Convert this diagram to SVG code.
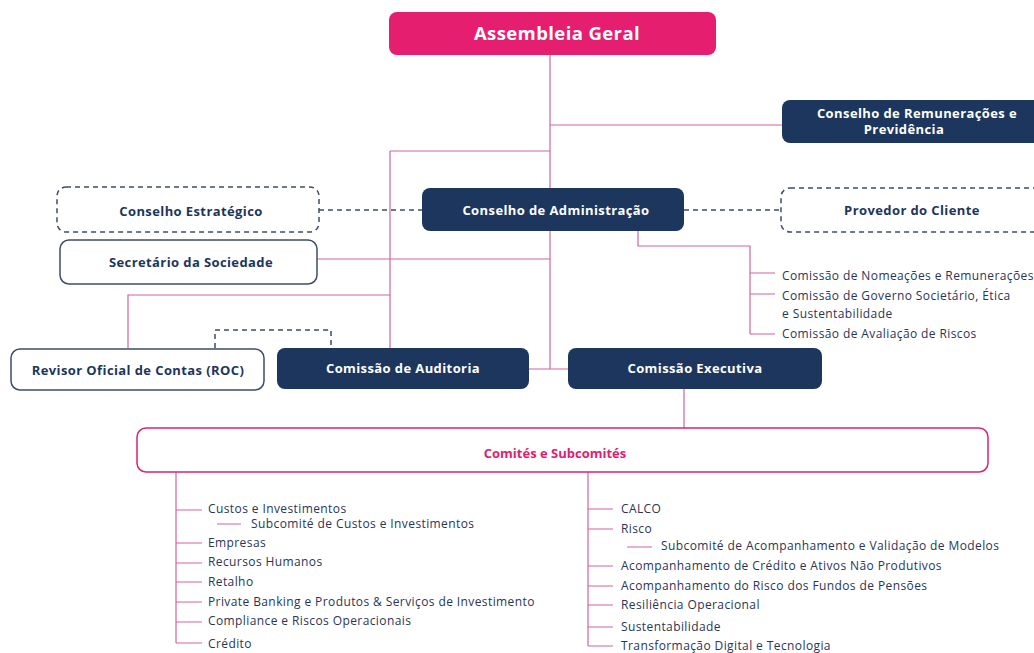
<svg xmlns="http://www.w3.org/2000/svg" width="1034" height="653" viewBox="0 0 1034 653">
<style>
.bg{fill:#ffffff}
.navy{fill:#1C365D}
.pinkbox{fill:#E61E70}
.outline{fill:#ffffff;stroke:#3E4C68;stroke-width:1.5}
.dashbox{fill:#ffffff;stroke:#3E4C68;stroke-width:1.5;stroke-dasharray:5 4}
.pinkoutline{fill:#ffffff;stroke:#D9246E;stroke-width:1.5}
.ln{fill:none;stroke:#D064A0;stroke-width:1.2}
.dash{fill:none;stroke:#3E4C68;stroke-width:1.5;stroke-dasharray:5 4}
.tw{font-family:"Open Sans","DejaVu Sans",sans-serif;font-weight:700;font-size:13px;letter-spacing:0.4px;fill:#ffffff;text-anchor:middle}
.tn{font-family:"Open Sans","DejaVu Sans",sans-serif;font-weight:700;font-size:13px;letter-spacing:0.4px;fill:#1C365D;text-anchor:middle}
.tt{font-family:"Open Sans","DejaVu Sans",sans-serif;font-weight:700;font-size:18.5px;letter-spacing:0.4px;fill:#ffffff;text-anchor:middle}
.tp{font-family:"Open Sans","DejaVu Sans",sans-serif;font-weight:700;font-size:13px;fill:#E0206F;text-anchor:middle}
.li{font-family:"Open Sans","DejaVu Sans",sans-serif;font-size:12px;letter-spacing:0.4px;fill:#2A3556}
</style>
<rect class="bg" x="0" y="0" width="1034" height="653"/>
<g id="connectors">
  <path class="ln" d="M550,55 V369"/>
  <path class="ln" d="M550,125 H782"/>
  <path class="ln" d="M390,151 H550 M390,151 V348"/>
  <path class="ln" d="M317,259 H550"/>
  <path class="ln" d="M128,348 V295 H390"/>
  <path class="ln" d="M529,369 H568"/>
  <path class="ln" d="M638,231 V246 H750 V334"/>
  <path class="ln" d="M750,273 H775 M750,294 H775 M750,334 H775"/>
  <path class="ln" d="M684,389 V428"/>
  <path class="ln" d="M176,472 V643 M176,510 H202 M217,524 H241 M176,543 H202 M176,563 H202 M176,582 H202 M176,602 H202 M176,622 H202 M176,643 H202"/>
  <path class="ln" d="M588,472 V646 M588,509 H613 M588,529 H613 M627,547 H652 M588,566 H613 M588,586 H613 M588,605 H613 M588,627 H613 M588,646 H613"/>
  <path class="dash" d="M319,210 H422"/>
  <path class="dash" d="M684,210 H781"/>
  <path class="dash" d="M215,348 V330 H331 V348"/>
</g>
<g id="assembleia">
  <rect class="pinkbox" x="389" y="12" width="327" height="43" rx="8"/>
  <text class="tt" x="557" y="40">Assembleia Geral</text>
</g>
<g id="remuneracoes">
  <rect class="navy" x="782" y="100" width="262" height="43" rx="8"/>
  <text class="tw" x="917" y="118">Conselho de Remunerações e</text>
  <text class="tw" x="904" y="134">Previdência</text>
</g>
<g id="estrategico">
  <rect class="dashbox" x="57" y="187" width="262" height="45" rx="9"/>
  <text class="tn" x="191" y="216">Conselho Estratégico</text>
</g>
<g id="administracao">
  <rect class="navy" x="422" y="188" width="262" height="43" rx="8"/>
  <text class="tw" x="556" y="215">Conselho de Administração</text>
</g>
<g id="provedor">
  <rect class="dashbox" x="781" y="188" width="262" height="44" rx="9"/>
  <text class="tn" x="912" y="215">Provedor do Cliente</text>
</g>
<g id="secretario">
  <rect class="outline" x="60" y="240" width="257" height="44" rx="9"/>
  <text class="tn" x="191" y="267">Secretário da Sociedade</text>
</g>
<g id="comissoes-ca">
  <text class="li" x="782" y="280">Comissão de Nomeações e Remunerações</text>
  <text class="li" x="782" y="300">Comissão de Governo Societário, Ética</text>
  <text class="li" x="782" y="318">e Sustentabilidade</text>
  <text class="li" x="782" y="338">Comissão de Avaliação de Riscos</text>
</g>
<g id="roc">
  <rect class="outline" x="11" y="349" width="253" height="41" rx="9"/>
  <text class="tn" x="138" y="375">Revisor Oficial de Contas (ROC)</text>
</g>
<g id="auditoria">
  <rect class="navy" x="277" y="348" width="252" height="41" rx="8"/>
  <text class="tw" x="403" y="373">Comissão de Auditoria</text>
</g>
<g id="executiva">
  <rect class="navy" x="568" y="348" width="254" height="41" rx="8"/>
  <text class="tw" x="695" y="373">Comissão Executiva</text>
</g>
<g id="comites">
  <rect class="pinkoutline" x="137" y="428" width="851" height="44" rx="9"/>
  <text class="tp" x="555" y="458">Comités e Subcomités</text>
</g>
<g id="lista-esquerda">
  <text class="li" x="208" y="513">Custos e Investimentos</text>
  <text class="li" x="251" y="528">Subcomité de Custos e Investimentos</text>
  <text class="li" x="208" y="547">Empresas</text>
  <text class="li" x="208" y="566">Recursos Humanos</text>
  <text class="li" x="208" y="586">Retalho</text>
  <text class="li" x="208" y="606">Private Banking e Produtos &amp; Serviços de Investimento</text>
  <text class="li" x="208" y="625">Compliance e Riscos Operacionais</text>
  <text class="li" x="208" y="648">Crédito</text>
</g>
<g id="lista-direita">
  <text class="li" x="621" y="513">CALCO</text>
  <text class="li" x="621" y="533">Risco</text>
  <text class="li" x="661" y="550">Subcomité de Acompanhamento e Validação de Modelos</text>
  <text class="li" x="621" y="570">Acompanhamento de Crédito e Ativos Não Produtivos</text>
  <text class="li" x="621" y="590">Acompanhamento do Risco dos Fundos de Pensões</text>
  <text class="li" x="621" y="609">Resiliência Operacional</text>
  <text class="li" x="621" y="631">Sustentabilidade</text>
  <text class="li" x="621" y="650">Transformação Digital e Tecnologia</text>
</g>
</svg>
